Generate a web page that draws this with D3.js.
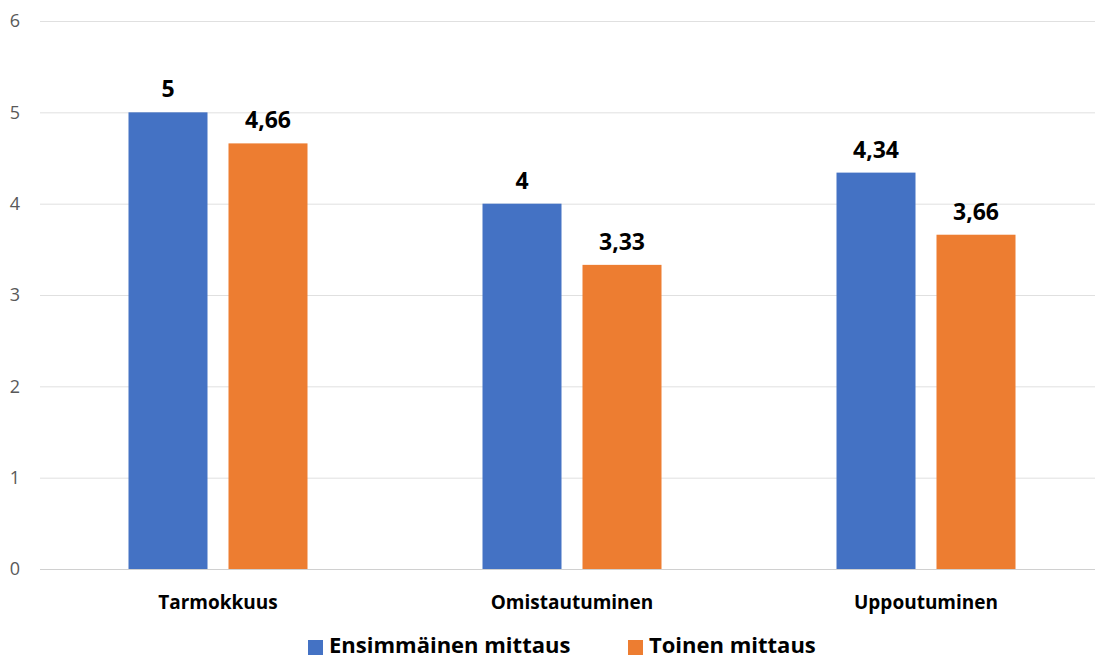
<!DOCTYPE html>
<html>
<head>
<meta charset="utf-8">
<script src="https://cdn.jsdelivr.net/npm/d3@7"></script>
<style>
  body { margin: 0; background: #fff; }
  text { font-family: "Open Sans", "Noto Sans", sans-serif; }
</style>
</head>
<body>
<div id="chart"></div>
<script>
var categories = ["Tarmokkuus", "Omistautuminen", "Uppoutuminen"];
var seriesNames = ["Ensimmäinen mittaus", "Toinen mittaus"];
var first = [5, 4, 4.34];
var second = [4.66, 3.33, 3.66];
var yTicks = [0, 1, 2, 3, 4, 5, 6];
var colors = ["#4472c4", "#ed7d31"];

var width = 1095, height = 659;
var fmt = function (v) { return String(v).replace(".", ","); };

var svg = d3.select("#chart").append("svg")
    .attr("width", width)
    .attr("height", height);

var x = d3.scaleBand()
    .domain(categories)
    .range([41, 1103]);
var y = d3.scaleLinear()
    .domain([0, 6])
    .range([569, 21]);

// gridlines
svg.append("g")
    .selectAll("line")
    .data(yTicks)
    .enter().append("line")
    .attr("x1", 40)
    .attr("x2", width)
    .attr("y1", function (d) { return y(d) + 0.5; })
    .attr("y2", function (d) { return y(d) + 0.5; })
    .attr("stroke", function (d) { return d === 0 ? "#d0d0d0" : "#e0e0e0"; })
    .attr("stroke-width", 1);

// y tick labels
svg.append("g")
    .selectAll("text")
    .data(yTicks)
    .enter().append("text")
    .attr("x", 15)
    .attr("y", function (d) { return y(d); })
    .attr("dy", "0.35em")
    .attr("text-anchor", "middle")
    .attr("fill", "#595959")
    .style("font-size", "18px")
    .text(function (d) { return d; });

var barW = 79, gap = 21;
var rows = categories.map(function (c, i) {
    return { cat: c, vals: [first[i], second[i]] };
});

var g = svg.selectAll(".cat")
    .data(rows)
    .enter().append("g")
    .attr("class", "cat")
    .attr("transform", function (d) {
        return "translate(" + (x(d.cat) + x.bandwidth() / 2) + ",0)";
    });

g.selectAll("rect")
    .data(function (d) { return d.vals; })
    .enter().append("rect")
    .attr("x", function (d, i) { return i === 0 ? -gap / 2 - barW : gap / 2; })
    .attr("y", function (d) { return y(d); })
    .attr("width", barW)
    .attr("height", function (d) { return y(0) - y(d); })
    .attr("fill", function (d, i) { return colors[i]; });

g.selectAll(".val")
    .data(function (d) { return d.vals; })
    .enter().append("text")
    .attr("class", "val")
    .attr("x", function (d, i) { return i === 0 ? -gap / 2 - barW / 2 : gap / 2 + barW / 2; })
    .attr("y", function (d) { return y(d) - 15; })
    .attr("text-anchor", "middle")
    .attr("fill", "#000")
    .style("font-size", "23px")
    .style("font-weight", "bold")
    .text(fmt);

// category labels
g.append("text")
    .attr("x", 0)
    .attr("y", 609)
    .attr("text-anchor", "middle")
    .attr("fill", "#000")
    .style("font-size", "19px")
    .style("font-weight", "bold")
    .text(function (d) { return d.cat; });

// legend
var legendX = [308, 628];
var leg = svg.selectAll(".leg")
    .data(seriesNames)
    .enter().append("g")
    .attr("class", "leg")
    .attr("transform", function (d, i) { return "translate(" + legendX[i] + ",640)"; });
leg.append("rect")
    .attr("width", 15)
    .attr("height", 15)
    .attr("fill", function (d, i) { return colors[i]; });
leg.append("text")
    .attr("x", 21)
    .attr("y", 5)
    .attr("dy", "0.36em")
    .attr("fill", "#000")
    .style("font-size", "22px")
    .style("font-weight", "bold")
    .text(function (d) { return d; });
</script>
</body>
</html>
